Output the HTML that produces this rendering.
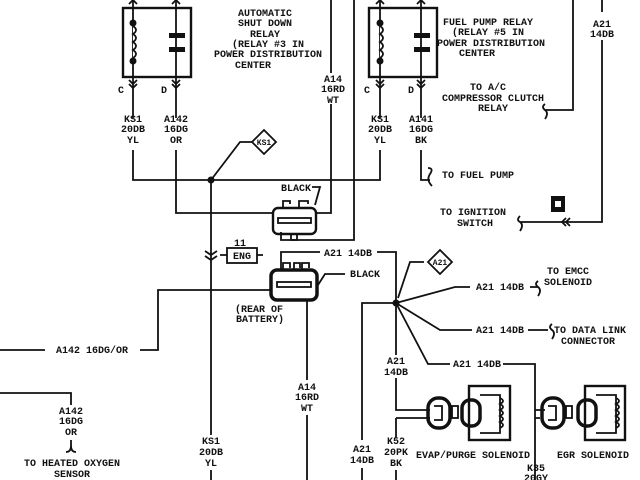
<!DOCTYPE html>
<html><head><style>
body{margin:0;background:#fff;}
svg{display:block}
text{font-family:"Liberation Mono",monospace;font-weight:bold;font-size:10px;fill:#111;text-anchor:middle}
</style></head><body>
<svg width="640" height="480" viewBox="0 0 640 480" xmlns="http://www.w3.org/2000/svg">
<g stroke="#111" stroke-width="1.8" fill="none">
<!-- left relay -->
<rect x="123" y="8" width="68" height="69" stroke-width="2.4"/>
<line x1="133" y1="0" x2="133" y2="118"/><line x1="176" y1="0" x2="176" y2="118"/>
<path d="M129,4 L133,0 L137,4 M172,4 L176,0 L180,4"/>
<path d="M129,80 L133,84 L137,80 M129,84 L133,88 L137,84 M172,80 L176,84 L180,80 M172,84 L176,88 L180,84"/>
<path d="M133,26 q6,4 0,8 q6,4 0,8 q6,4 0,8 q6,4 0,8" fill="#fff"/>
<!-- right relay -->
<rect x="369" y="8" width="68" height="69" stroke-width="2.4"/>
<line x1="380" y1="0" x2="380" y2="118"/><line x1="421" y1="0" x2="421" y2="118"/>
<path d="M376,4 L380,0 L384,4 M417,4 L421,0 L425,4"/>
<path d="M376,80 L380,84 L384,80 M376,84 L380,88 L384,84 M417,80 L421,84 L425,80 M417,84 L421,88 L425,84"/>
<path d="M380,26 q6,4 0,8 q6,4 0,8 q6,4 0,8 q6,4 0,8" fill="#fff"/>
<!-- wires top -->
<path d="M133,150 V180 H380 V150"/>
<path d="M176,150 V213 H273"/>
<path d="M331,0 V73 M331,104 V213 H316"/>
<path d="M354,0 V240 H281 V232"/>
<path d="M421,150 V180 H430 M428,168 q6,0 2,6 q-4,6 2,12"/>
<path d="M211,180 L240,142 H255"/>
<path d="M264,130 L276,142 L264,154 L252,142 Z" fill="#fff"/>
<path d="M573,0 V110 H545 M545,104 q-4,3 0,6 q4,3 0,9"/>
<path d="M602,0 V12 M602,40 V222 H520 M520,216 q-4,4 0,6 q4,3 0,9"/>
<path d="M566,218 L562,222 L566,226 M570,218 L566,222 L570,226"/>
<!-- connector 1 -->
<rect x="273" y="208" width="43" height="26" rx="5" stroke-width="2.4"/>
<rect x="278" y="218" width="33" height="5" />
<path d="M283,208 V201 H290 V204 M299,208 V201 H308 V204"/>
<path d="M312,187 H320 L315,205"/>
<path d="M291,234 V240 H297 V234"/>
<!-- KS1 vertical + eng -->
<path d="M211,180 V435 M211,470 V480"/>
<path d="M205,251 L211,255 L217,251 M205,256 L211,260 L217,256"/>
<rect x="227" y="248" width="30" height="15"/>
<path d="M220,255 H227 M257,255 H263"/>
<!-- connector 2 -->
<rect x="271" y="270" width="46" height="30" rx="6" stroke-width="3.5"/>
<rect x="277" y="282" width="34" height="5"/>
<path d="M281,270 V262 M283,270 V263 H290 V268 M294,270 V263 H300 V268 M302,270 V263 H309 V268"/>
<path d="M281,262 V252 H320 M377,252 H396 V303"/>
<path d="M345,274 H325 L318,285"/>
<path d="M272,290 H158 V350 H140 M0,350 H45"/>
<path d="M307,300 V380 M307,415 V480"/>
<path d="M0,393 H71 V405 M71,440 V450 M66,452 q5,0 5,-6 q0,6 5,6"/>
<!-- A21 junction -->
<path d="M396,303 L455,287 H470 M396,303 L440,330 H472 M396,303 L428,364 H450 M503,364 H535 V480"/>
<path d="M396,303 H362 V440 M362,468 V480"/>
<path d="M396,303 V355 M396,378 V410 H430 M396,418 V438 M396,470 V480 M396,418 H430"/>
<path d="M530,287 H538 M538,281 q-4,3 0,6 q4,3 0,9"/>
<path d="M528,330 H548 M552,324 q-4,3 0,6 q4,3 0,9"/>
<path d="M424,262 L410,262 L398,298"/>
<path d="M440,250 L452,262 L440,274 L428,262 Z" fill="#fff"/>
<path d="M535,410 H545 M540,418 H535"/>
<!-- evap -->
<rect x="428" y="398" width="22" height="30" rx="10" stroke-width="3.5"/>
<path d="M434,406 h8 v14 h-8"/>
<rect x="452" y="406" width="6" height="12"/>
<rect x="469" y="386" width="41" height="54" stroke-width="2.4"/>
<rect x="462" y="400" width="18" height="26" rx="8" stroke-width="3.5"/>
<path d="M480,395 H500 V433 H480 M500,398 q6,3 0,6 q6,3 0,6 q6,3 0,6 q6,3 0,6 q6,3 0,6"/>
<!-- egr -->
<rect x="542" y="398" width="22" height="30" rx="10" stroke-width="3.5"/>
<path d="M548,406 h8 v14 h-8"/>
<rect x="566" y="406" width="6" height="12"/>
<rect x="585" y="386" width="40" height="54" stroke-width="2.4"/>
<rect x="578" y="400" width="18" height="26" rx="8" stroke-width="3.5"/>
<path d="M596,395 H616 V433 H596 M616,398 q6,3 0,6 q6,3 0,6 q6,3 0,6 q6,3 0,6 q6,3 0,6"/>
</g>
<g fill="#111">
<circle cx="133" cy="23" r="3.5"/><circle cx="133" cy="61" r="3.5"/>
<rect x="169" y="33" width="16" height="5"/><rect x="169" y="47" width="16" height="5"/>
<circle cx="380" cy="23" r="3.5"/><circle cx="380" cy="61" r="3.5"/>
<rect x="414" y="33" width="16" height="5"/><rect x="414" y="47" width="16" height="5"/>
<circle cx="211" cy="180" r="3.5"/><circle cx="396" cy="303" r="3.5"/>
<rect x="551" y="196" width="14" height="16"/>
</g>
<rect x="555" y="201" width="6" height="6" fill="#fff"/>
<text x="265" y="16">AUTOMATIC</text><text x="265" y="26">SHUT DOWN</text><text x="265" y="37">RELAY</text>
<text x="268" y="47">(RELAY #3 IN</text><text x="268" y="57">POWER DISTRIBUTION</text><text x="253" y="68">CENTER</text>
<text x="121" y="93">C</text><text x="164" y="93">D</text>
<text x="133" y="122">KS1</text><text x="133" y="132">20DB</text><text x="133" y="143">YL</text>
<text x="176" y="122">A142</text><text x="176" y="132">16DG</text><text x="176" y="143">OR</text>
<text x="333" y="82">A14</text><text x="333" y="92">16RD</text><text x="333" y="103">WT</text>
<text x="264" y="145" style="font-size:8px">KS1</text>
<text x="296" y="191">BLACK</text>
<text x="488" y="25">FUEL PUMP RELAY</text><text x="488" y="35">(RELAY #5 IN</text><text x="491" y="46">POWER DISTRIBUTION</text><text x="477" y="56">CENTER</text>
<text x="367" y="93">C</text><text x="411" y="93">D</text>
<text x="380" y="122">KS1</text><text x="380" y="132">20DB</text><text x="380" y="143">YL</text>
<text x="421" y="122">A141</text><text x="421" y="132">16DG</text><text x="421" y="143">BK</text>
<text x="602" y="27">A21</text><text x="602" y="37">14DB</text>
<text x="488" y="90">TO A/C</text><text x="493" y="101">COMPRESSOR CLUTCH</text><text x="493" y="111">RELAY</text>
<text x="478" y="178">TO FUEL PUMP</text>
<text x="473" y="215">TO IGNITION</text><text x="475" y="226">SWITCH</text>
<text x="240" y="246">11</text><text x="242" y="259">ENG</text>
<text x="348" y="256">A21 14DB</text><text x="365" y="277">BLACK</text>
<text x="259" y="312">(REAR OF</text><text x="260" y="322">BATTERY)</text>
<text x="92" y="353">A142 16DG/OR</text>
<text x="71" y="414">A142</text><text x="71" y="424">16DG</text><text x="71" y="435">OR</text>
<text x="72" y="466">TO HEATED OXYGEN</text><text x="72" y="477">SENSOR</text>
<text x="307" y="390">A14</text><text x="307" y="400">16RD</text><text x="307" y="411">WT</text>
<text x="211" y="444">KS1</text><text x="211" y="455">20DB</text><text x="211" y="466">YL</text>
<text x="440" y="265" style="font-size:8px">A21</text>
<text x="500" y="290">A21 14DB</text><text x="568" y="274">TO EMCC</text><text x="568" y="285">SOLENOID</text>
<text x="500" y="333">A21 14DB</text><text x="590" y="333">TO DATA LINK</text><text x="588" y="344">CONNECTOR</text>
<text x="477" y="367">A21 14DB</text>
<text x="396" y="364">A21</text><text x="396" y="375">14DB</text>
<text x="362" y="452">A21</text><text x="362" y="463">14DB</text>
<text x="396" y="444">K52</text><text x="396" y="455">20PK</text><text x="396" y="466">BK</text>
<text x="473" y="458">EVAP/PURGE SOLENOID</text><text x="593" y="458">EGR SOLENOID</text>
<text x="536" y="471">K35</text><text x="536" y="481">20GY</text>
</svg>
</body></html>
